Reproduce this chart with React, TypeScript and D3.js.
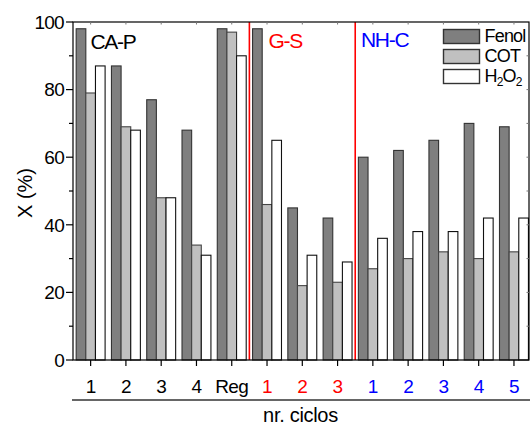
import React from "react";
import * as d3 from "d3";

// Cycle labels along the x axis and the catalyst group each belongs to
const categories = ["1", "2", "3", "4", "Reg", "1", "2", "3", "1", "2", "3", "4", "5"];
const groups = ["CA-P", "CA-P", "CA-P", "CA-P", "CA-P", "G-S", "G-S", "G-S", "NH-C", "NH-C", "NH-C", "NH-C", "NH-C"];
const groupNames = ["CA-P", "G-S", "NH-C"];

// Conversion X (%) per cycle
const fenol = [98, 87, 77, 68, 98, 98, 45, 42, 60, 62, 65, 70, 69];
const cot = [79, 69, 48, 34, 97, 46, 22, 23, 27, 30, 32, 30, 32];
const h2o2 = [87, 68, 48, 31, 90, 65, 31, 29, 36, 38, 38, 42, 42];

const seriesNames = ["Fenol", "COT", "H2O2"];
const majorTicks = [0, 20, 40, 60, 80, 100];

const W = 532;
const H = 428;
const left = 73;
const right = 529;
const top = 22;
const bottom = 360;
const FONT = "'Liberation Sans', Arial, Helvetica, sans-serif";

const groupColor: Record<string, string> = { "CA-P": "#000000", "G-S": "#ff0000", "NH-C": "#0000ff" };
const fills = ["#7f7f7f", "#c0c0c0", "#ffffff"];
const strokes = ["#333333", "#444444", "#111111"];

export default function App() {
  const ids = categories.map((_, i) => String(i));
  const x = d3.scaleBand<string>().domain(ids).range([left, 531.6]).paddingInner(0.18).paddingOuter(0.09);
  const xs = d3.scaleBand<string>().domain(seriesNames).range([0, x.bandwidth()]);
  const y = d3.scaleLinear().domain([0, 100]).range([bottom, top]);
  const values = [fenol, cot, h2o2];
  const minor = d3.range(10, 100, 20);
  const allTen = d3.range(10, 100, 10);

  // separators between catalyst groups
  const sepIdx: number[] = [];
  for (let i = 1; i < groups.length; i++) if (groups[i] !== groups[i - 1]) sepIdx.push(i);
  const sepX = sepIdx.map((i) => ((x(String(i - 1)) as number) + x.bandwidth() + (x(String(i)) as number)) / 2);

  const groupStart = groupNames.map((g) => groups.indexOf(g));
  const groupLabelX = [90.5, 268.5, 361];
  const groupLabelY = [49, 48, 47];

  const center = (i: number) => (x(String(i)) as number) + x.bandwidth() / 2;

  return (
    <svg width={W} height={H} style={{ display: "block", position: "absolute", left: 0, top: 0 }} fontFamily={FONT}>
      <rect x={0} y={0} width={W} height={H} fill="#ffffff" />
      {/* bars */}
      {values.map((vals, s) =>
        vals.map((v, i) => (
          <rect
            key={`b${s}-${i}`}
            x={(x(String(i)) as number) + (xs(seriesNames[s]) as number)}
            y={y(v)}
            width={xs.bandwidth()}
            height={bottom - y(v)}
            fill={fills[s]}
            stroke={strokes[s]}
            strokeWidth={1.1}
          />
        ))
      )}
      {/* group separators */}
      {sepX.map((sx, k) => (
        <line key={`sep${k}`} x1={sx} x2={sx} y1={top} y2={bottom} stroke="#ff0000" strokeWidth={1.6} />
      ))}
      {/* frame */}
      <rect x={left} y={top} width={right - left} height={bottom - top} fill="none" stroke="#000" strokeWidth={1.2} />
      {/* top ticks (inward) */}
      {ids.map((_, i) => (
        <line key={`tt${i}`} x1={center(i)} x2={center(i)} y1={top} y2={top + 2.5} stroke="#777" strokeWidth={1} />
      ))}
      {/* right ticks (inward) */}
      {allTen.map((t) => (
        <line key={`rt${t}`} x1={right} x2={right - 2.5} y1={y(t)} y2={y(t)} stroke="#777" strokeWidth={1} />
      ))}
      {/* left axis */}
      {majorTicks.map((t) => (
        <g key={`yt${t}`}>
          <line x1={left - 7} x2={left} y1={y(t)} y2={y(t)} stroke="#000" strokeWidth={1.2} />
          <text x={left - 9} y={y(t)} dy="0.36em" textAnchor="end" fontSize={19} letterSpacing={-0.7} fill="#000">
            {t}
          </text>
        </g>
      ))}
      {minor.map((t) => (
        <line key={`ym${t}`} x1={left - 4} x2={left} y1={y(t)} y2={y(t)} stroke="#000" strokeWidth={1.2} />
      ))}
      {/* bottom axis */}
      {categories.map((c, i) => (
        <g key={`xt${i}`}>
          <line x1={center(i)} x2={center(i)} y1={bottom} y2={bottom + 6} stroke="#000" strokeWidth={1.2} />
          <text x={center(i)} y={393} textAnchor="middle" fontSize={19} letterSpacing={-0.6} fill={groupColor[groups[i]]}>
            {c}
          </text>
        </g>
      ))}
      <line x1={72} x2={530} y1={400} y2={400} stroke="#333" strokeWidth={1.3} />
      <text x={300.5} y={422} textAnchor="middle" fontSize={20} letterSpacing={-0.3} fill="#000">
        nr. ciclos
      </text>
      {/* y title */}
      <text transform="translate(32,193) rotate(-90)" textAnchor="middle" fontSize={20} fill="#000">
        X (%)
      </text>
      {/* group labels */}
      {groupNames.map((g, k) => (
        <text
          key={`gl${g}`}
          x={groupLabelX[k]}
          y={groupLabelY[k]}
          fontSize={21}
          letterSpacing={-1.3}
          fill={groupColor[groups[groupStart[k]]]}
        >
          {g}
        </text>
      ))}
      {/* legend */}
      {seriesNames.map((s, k) => (
        <g key={`lg${s}`}>
          <rect x={443.5} y={29.5 + k * 20} width={36} height={14} fill={fills[k]} stroke="#333" strokeWidth={1.4} />
          {s === "H2O2" ? (
            <text x={484.5} y={42.3 + k * 20} fontSize={18} letterSpacing={-0.8} fill="#000">
              H
              <tspan fontSize={12} dy={4}>2</tspan>
              <tspan dy={-4}>O</tspan>
              <tspan fontSize={12} dy={4}>2</tspan>
            </text>
          ) : (
            <text x={484.5} y={42.3 + k * 20} fontSize={18} letterSpacing={-0.8} fill="#000">
              {s}
            </text>
          )}
        </g>
      ))}
    </svg>
  );
}
